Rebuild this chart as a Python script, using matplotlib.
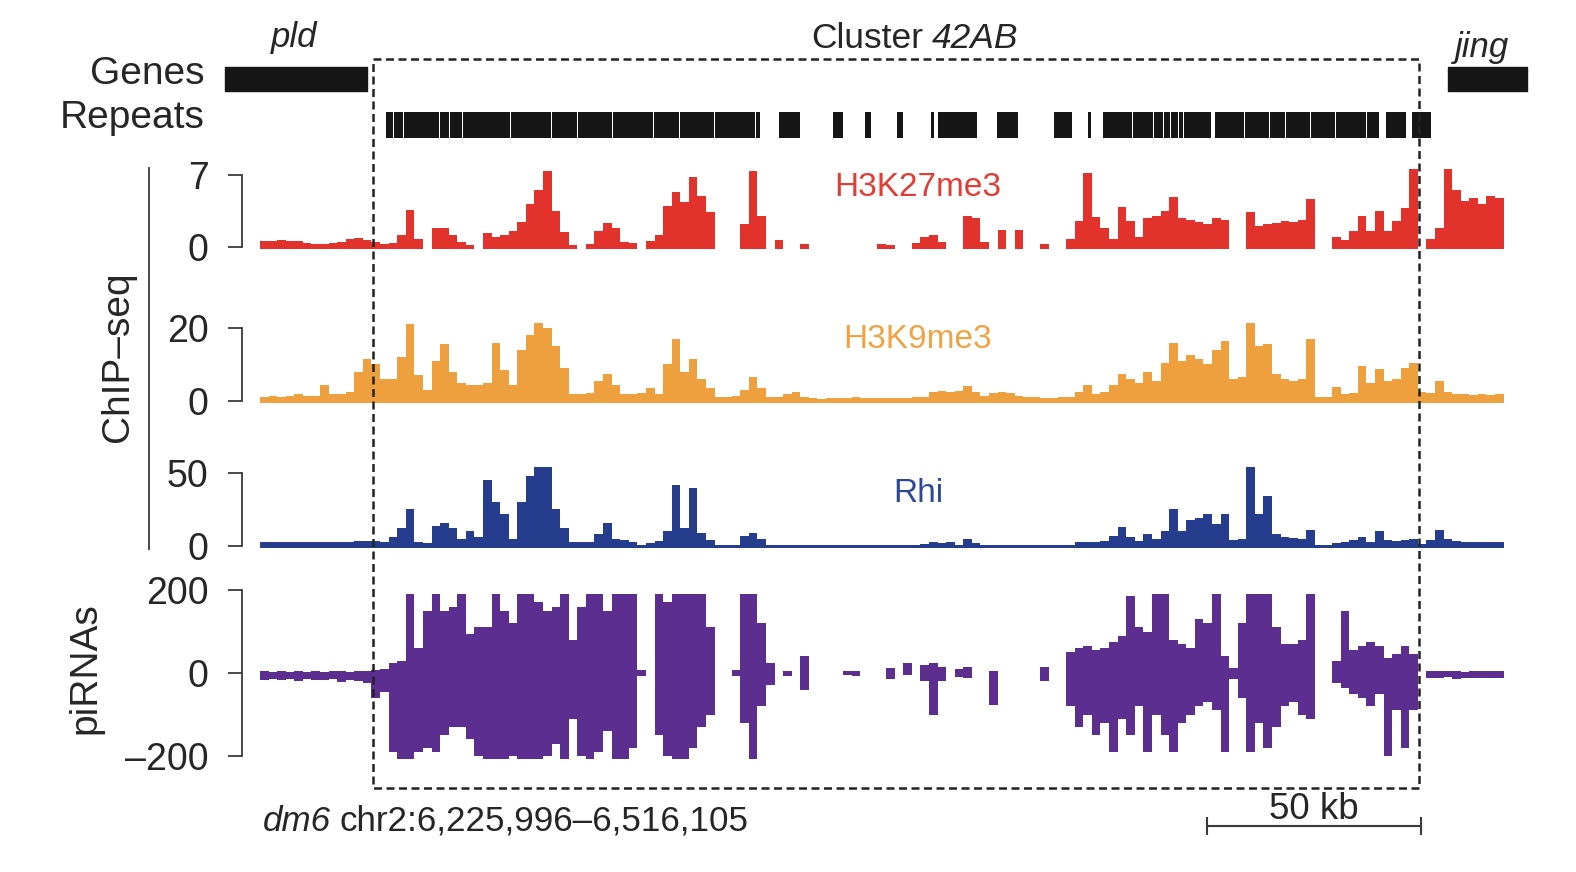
import numpy as np
import matplotlib
matplotlib.use("Agg")
import matplotlib.pyplot as plt
from matplotlib.patches import Rectangle

plt.rcParams['font.family'] = ['Liberation Sans', 'DejaVu Sans']

nan = np.nan

# region dm6 chr2:6,225,996-6,516,105, signal in 2 kb bins (kb from region start)
bin_kb = 2.0

k27 = [0.6, 0.6, 0.7, 0.6, 0.6, 0.4, 0.3, 0.3, 0.4, 0.5,
       0.8, 0.9, 0.7, 0.5, 0.3, 0.4, 1.2, 3.6, 0.8, nan,
       1.8, 1.8, 1.2, 0.5, 0.2, nan, 1.4, 1.0, 1.2, 1.6,
       2.4, 4.2, 5.5, 7.4, 3.5, 1.5, 0.2, nan, 0.3, 1.6,
       2.3, 1.8, 0.5, 0.4, nan, 0.6, 1.2, 4.0, 5.3, 4.4,
       6.8, 5.0, 3.4, nan, nan, nan, 2.2, 7.4, 3.0, nan,
       0.7, nan, nan, 0.3, nan, nan, nan, nan, nan, nan,
       nan, nan, 0.3, 0.2, nan, nan, 0.4, 1.0, 1.2, 0.5,
       nan, nan, 3.0, 2.8, 0.5, nan, 1.7, nan, 1.7, nan,
       nan, 0.3, nan, nan, 0.8, 2.5, 7.2, 2.9, 1.8, 0.8,
       3.9, 2.5, 1.0, 2.8, 3.0, 3.5, 4.9, 2.8, 2.6, 2.4,
       2.2, 2.8, 2.6, nan, nan, 3.4, 2.0, 2.2, 2.3, 2.5,
       2.4, 2.6, 4.7, nan, nan, 1.0, 0.7, 1.6, 3.0, 1.6,
       3.5, 1.6, 2.5, 3.8, 7.6, nan, 0.8, 1.8, 7.6, 5.5,
       4.5, 4.8, 4.2, 5.0, 4.8]

k9 = [1.2, 1.3, 1.2, 1.4, 2.0, 1.3, 1.5, 4.5, 1.8, 2.0,
      2.5, 8.0, 11.5, 10.0, 6.0, 6.0, 12.0, 21.0, 7.0, 3.0,
      11.0, 15.5, 8.0, 5.0, 4.5, 4.5, 5.0, 16.0, 8.5, 4.5,
      14.0, 18.0, 21.5, 20.0, 15.0, 9.0, 2.0, 2.0, 2.2, 5.5,
      7.5, 4.5, 2.0, 2.0, 2.2, 3.5, 1.8, 10.0, 17.0, 8.0,
      11.5, 6.0, 3.5, 1.2, 1.0, 1.5, 3.0, 6.5, 3.5, 1.0,
      1.0, 1.8, 2.5, 1.2, 0.8, 0.6, 0.8, 0.7, 0.8, 1.2,
      0.8, 0.8, 0.8, 0.7, 0.8, 0.9, 1.0, 1.2, 2.5, 2.8,
      2.5, 2.8, 4.0, 2.5, 1.5, 2.2, 2.5, 2.2, 1.5, 1.0,
      1.0, 0.9, 0.8, 1.0, 1.2, 2.5, 4.5, 2.0, 2.5, 4.5,
      7.5, 6.0, 5.0, 8.0, 5.5, 10.5, 16.0, 11.0, 12.5, 11.5,
      10.0, 14.0, 16.5, 6.0, 6.5, 21.5, 15.0, 15.5, 7.5, 6.0,
      5.5, 6.0, 17.0, 1.2, 1.0, 3.8, 2.0, 2.2, 9.5, 5.0,
      8.8, 5.5, 6.0, 9.0, 10.5, 2.5, 2.3, 5.5, 2.5, 2.0,
      1.8, 1.6, 1.8, 1.6, 1.8]

rhi = [2.5, 2.5, 2.8, 2.5, 2.5, 2.8, 2.5, 2.8, 3.0, 2.8,
       3.0, 3.2, 3.5, 3.5, 3.0, 6.0, 12.0, 25.0, 3.0, 2.0,
       14.0, 16.0, 12.0, 5.0, 10.0, 6.0, 45.0, 30.0, 22.0, 5.0,
       30.0, 48.0, 54.0, 54.0, 25.0, 12.0, 2.5, 2.5, 2.5, 8.0,
       16.0, 5.0, 4.0, 3.0, 1.0, 2.0, 3.5, 10.0, 42.0, 12.0,
       40.0, 9.0, 4.0, 0.5, 0.5, 0.5, 7.0, 9.0, 5.0, 0.5,
       0.5, 0.5, 0.5, 0.5, 0.5, 0.5, 0.5, 0.5, 0.5, 0.5,
       0.5, 0.5, 0.5, 0.5, 0.5, 0.5, 0.5, 1.5, 2.5, 2.0,
       2.5, 1.0, 5.0, 2.0, 1.0, 0.5, 0.5, 0.5, 0.5, 0.5,
       0.5, 0.5, 0.5, 0.5, 1.0, 2.5, 3.0, 2.5, 3.5, 7.0,
       13.0, 6.0, 3.5, 8.0, 5.0, 10.0, 25.0, 10.0, 18.0, 19.0,
       22.0, 15.0, 22.0, 4.0, 5.0, 54.0, 22.0, 34.0, 8.0, 6.0,
       5.5, 5.0, 11.0, 0.5, 0.5, 2.0, 3.0, 4.0, 6.5, 3.0,
       10.0, 4.0, 3.5, 4.0, 4.5, 1.5, 4.0, 11.0, 5.0, 3.5,
       3.0, 2.5, 2.5, 2.5, 2.5]

pi_plus = [4, 3, 4, 3, 4, 3, 4, 3, 4, 4,
           3, 4, 4, 8, 10, 25, 30, 200, 60, 150,
           200, 150, 160, 200, 95, 110, 110, 200, 150, 120,
           200, 200, 170, 150, 160, 200, 80, 160, 200, 200,
           150, 200, 200, 200, 8, nan, 200, 170, 200, 200,
           200, 200, 110, nan, nan, 8, 200, 200, 120, 25,
           nan, 5, nan, 40, nan, nan, nan, nan, 4, 5,
           nan, nan, nan, 12, nan, 25, nan, 20, 25, 15,
           nan, 10, 15, nan, nan, 5, nan, nan, nan, nan,
           nan, 15, nan, nan, 50, 60, 65, 55, 60, 75,
           90, 185, 110, 100, 200, 200, 80, 70, 60, 130,
           120, 200, 40, 12, 120, 200, 200, 200, 110, 70,
           70, 80, 200, nan, nan, 30, 150, 55, 65, 75,
           65, 35, 45, 65, 45, nan, 5, 4, 5, 4,
           3, 4, 5, 4, 4]

pi_minus = [-16, -14, -18, -15, -20, -14, -16, -18, -15, -22,
            -17, -20, -25, -60, -45, -190, -210, -210, -190, -180,
            -190, -150, -130, -130, -160, -200, -210, -210, -210, -200,
            -210, -210, -210, -200, -170, -210, -110, -200, -210, -190,
            -140, -210, -210, -180, -8, nan, -150, -200, -210, -210,
            -180, -130, -100, nan, nan, -8, -120, -210, -80, -30,
            nan, -8, nan, -40, nan, nan, nan, nan, -4, -8,
            nan, nan, nan, -15, nan, -5, nan, -20, -100, -20,
            nan, -10, -12, nan, nan, -76, nan, nan, nan, nan,
            nan, -20, nan, nan, -80, -130, -100, -150, -120, -190,
            -110, -150, -80, -190, -100, -150, -190, -120, -100, -80,
            -70, -90, -190, -15, -60, -190, -120, -180, -130, -80,
            -70, -100, -110, nan, nan, -25, -35, -50, -60, -80,
            -50, -200, -90, -180, -90, nan, -12, -12, -10, -14,
            -12, -11, -13, -12, -12]

# annotation (kb from region start)
genes = ['pld', 'jing']
gene_start = [-8.2, 277.1]
gene_end = [25.0, 295.5]
rep_start = [29.4, 31.25, 33.55, 41.95, 44.35, 47.35, 58.55, 68.15, 74.15, 82.35,
             91.95, 97.95, 106.15, 115.65, 121.0, 133.6, 141.1, 148.6, 156.5, 158.1,
             171.9, 185.2, 193.1, 196.6, 203.65, 208.55, 210.85, 212.55, 214.35, 215.55,
             222.7, 229.75, 235.55, 239.25, 245.15, 250.95, 258.15, 262.6, 268.7]
rep_end = [31.0, 33.3, 41.7, 44.1, 47.1, 58.3, 67.9, 73.9, 82.1, 91.7,
           97.7, 105.9, 115.4, 116.6, 125.9, 136.0, 142.5, 150.0, 157.2, 167.2,
           176.8, 189.4, 193.8, 203.4, 208.3, 210.6, 212.3, 214.1, 215.3, 221.8,
           229.5, 235.3, 239.0, 244.9, 250.7, 257.9, 261.0, 267.3, 273.1]
cluster_start, cluster_end = 26.35, 270.3
scale_len = 50.0

# ---- layout helpers (pixels of the 1576x872 canvas) ----
W, H = 1576, 872
PX_KB = 1244 / 290.1
def kb(px):
    return (px - 260) / PX_KB
XLIM = (kb(0), kb(W))

c_red, c_org, c_blu, c_pur = '#E1322B', '#EFA03E', '#263D8E', '#5C2E8F'
c_txt = '#262626'

fig = plt.figure(figsize=(W / 100, H / 100), dpi=100)
edges = np.arange(len(k27) + 1) * bin_kb

def steps(v):
    v = np.asarray(v, float)
    return np.repeat(edges, 2)[1:-1], np.repeat(v, 2)

def track_axes(v_lo, y_lo, v_hi, y_hi, vmin, vmax, ticks, labels):
    s = (y_lo - y_hi) / (v_hi - v_lo)
    top = y_hi - (vmax - v_hi) * s
    bot = y_lo + (v_lo - vmin) * s
    ax = fig.add_axes([0, 1 - bot / H, 1, (bot - top) / H])
    ax.set_xlim(XLIM)
    ax.set_ylim(vmin, vmax)
    ax.patch.set_alpha(0)
    for sp in ['top', 'right', 'bottom']:
        ax.spines[sp].set_visible(False)
    ax.spines['left'].set_position(('data', kb(242)))
    ax.spines['left'].set_bounds(ticks[0], ticks[-1])
    ax.spines['left'].set_linewidth(1.3)
    ax.spines['left'].set_color('#3a3a3a')
    ax.set_xticks([])
    ax.set_yticks(ticks)
    ax.set_yticklabels(labels)
    ax.tick_params(axis='y', direction='out', length=10, width=1.3, color='#3a3a3a',
                   pad=14, labelsize=27, labelcolor=c_txt)
    return ax

def chip(ax, vals, base, color):
    xs, ys = steps(vals)
    ok = np.isfinite(ys)
    ax.fill_between(xs, base, np.where(ok, ys, 0), where=ok, color=color, lw=0)

ax1 = track_axes(0, 247, 7, 175, -0.35, 8.2, [0, 7], ['0', '7'])
chip(ax1, k27, -0.2, c_red)
ax2 = track_axes(0, 401, 20, 328, -1.2, 23.5, [0, 20], ['0', '20'])
chip(ax2, k9, -0.6, c_org)
ax3 = track_axes(0, 546, 50, 473, -3, 58, [0, 50], ['0', '50'])
chip(ax3, rhi, -1.6, c_blu)
ax4 = track_axes(0, 673, 200, 590, -215, 210, [-200, 0, 200], ['\u2013200', '0', '200'])
xs, yp = steps(pi_plus)
_, ym = steps(pi_minus)
ok = np.isfinite(yp)
ax4.fill_between(xs, np.clip(np.where(ok, ym, 0), -208, None),
                 np.clip(np.where(ok, yp, 0), None, 190), where=ok, color=c_pur, lw=0)

# ---- overlay in canvas pixels (y) and kb (x) ----
ov = fig.add_axes([0, 0, 1, 1], zorder=10)
ov.set_xlim(XLIM)
ov.set_ylim(H, 0)
ov.axis('off')
ov.patch.set_alpha(0)

ov.broken_barh([(s, e - s) for s, e in zip(gene_start, gene_end)], (67, 24), color='#161616')
ov.broken_barh([(s, e - s) for s, e in zip(rep_start, rep_end)], (112, 26), color='#161616', lw=0)
ov.add_patch(Rectangle((cluster_start, 59), cluster_end - cluster_start, 788 - 59,
                       fill=False, ls=(0, (3.2, 1.8)), lw=1.8, ec='#222222'))

ov.text(kb(294), 38, 'pld', style='italic', fontsize=25, ha='center', va='center', color=c_txt)
ov.text(kb(1482), 47, 'jing', style='italic', fontsize=25, ha='center', va='center', color=c_txt)
ov.text(kb(205), 74, 'Genes', fontsize=28, ha='right', va='center', color=c_txt)
ov.text(kb(205), 118, 'Repeats', fontsize=28, ha='right', va='center', color=c_txt)
ov.text(kb(918), 188, 'H3K27me3', fontsize=24, ha='center', va='center', color='#E23C35')
ov.text(kb(918), 339, 'H3K9me3', fontsize=24, ha='center', va='center', color='#EFA343')
ov.text(kb(918), 493, 'Rhi', fontsize=24, ha='center', va='center', color='#2E4796')
ov.text(kb(118), 357, 'ChIP\u2013seq', fontsize=28, rotation=90, ha='center', va='center', color=c_txt)
ov.plot([kb(149), kb(149)], [168, 549], color='#3a3a3a', lw=1.3)
ov.text(kb(85), 668, 'piRNAs', fontsize=28, rotation=90, ha='center', va='center', color=c_txt)

# mixed upright / italic labels: measure first part, then place the second
fig.canvas.draw()
rend = fig.canvas.get_renderer()
inv = ov.transData.inverted()

def two_part(x_left, y, a, a_style, b, b_style, size, gap_px):
    t1 = ov.text(x_left, y, a, style=a_style, fontsize=size, ha='left', va='center', color=c_txt)
    bb = t1.get_window_extent(rend)
    x2 = inv.transform((bb.x1 + gap_px, 0))[0]
    t2 = ov.text(x2, y, b, style=b_style, fontsize=size, ha='left', va='center', color=c_txt)
    return t1, t2

# Cluster 42AB, centred on x=915 px
probe = ov.text(0, 0, 'Cluster', fontsize=25.5)
w1 = probe.get_window_extent(rend).width
probe.remove()
probe = ov.text(0, 0, '42AB', fontsize=25.5, style='italic')
w2 = probe.get_window_extent(rend).width
probe.remove()
two_part(kb(915 - (w1 + 9 + w2) / 2), 38, 'Cluster', 'normal', '42AB', 'italic', 25.5, 9)
two_part(kb(263), 821, 'dm6', 'italic', 'chr2:6,225,996\u20136,516,105', 'normal', 25.2, 8)

sb_end = kb(1421)
sb_start = sb_end - scale_len
ov.plot([sb_start, sb_end], [826, 826], color='#3a3a3a', lw=1.5)
ov.plot([sb_start, sb_start], [818, 834], color='#3a3a3a', lw=1.5)
ov.plot([sb_end, sb_end], [818, 834], color='#3a3a3a', lw=1.5)
ov.text((sb_start + sb_end) / 2, 809, '50 kb', fontsize=26.5, ha='center', va='center', color=c_txt)

fig.savefig('out.png', dpi=100)
